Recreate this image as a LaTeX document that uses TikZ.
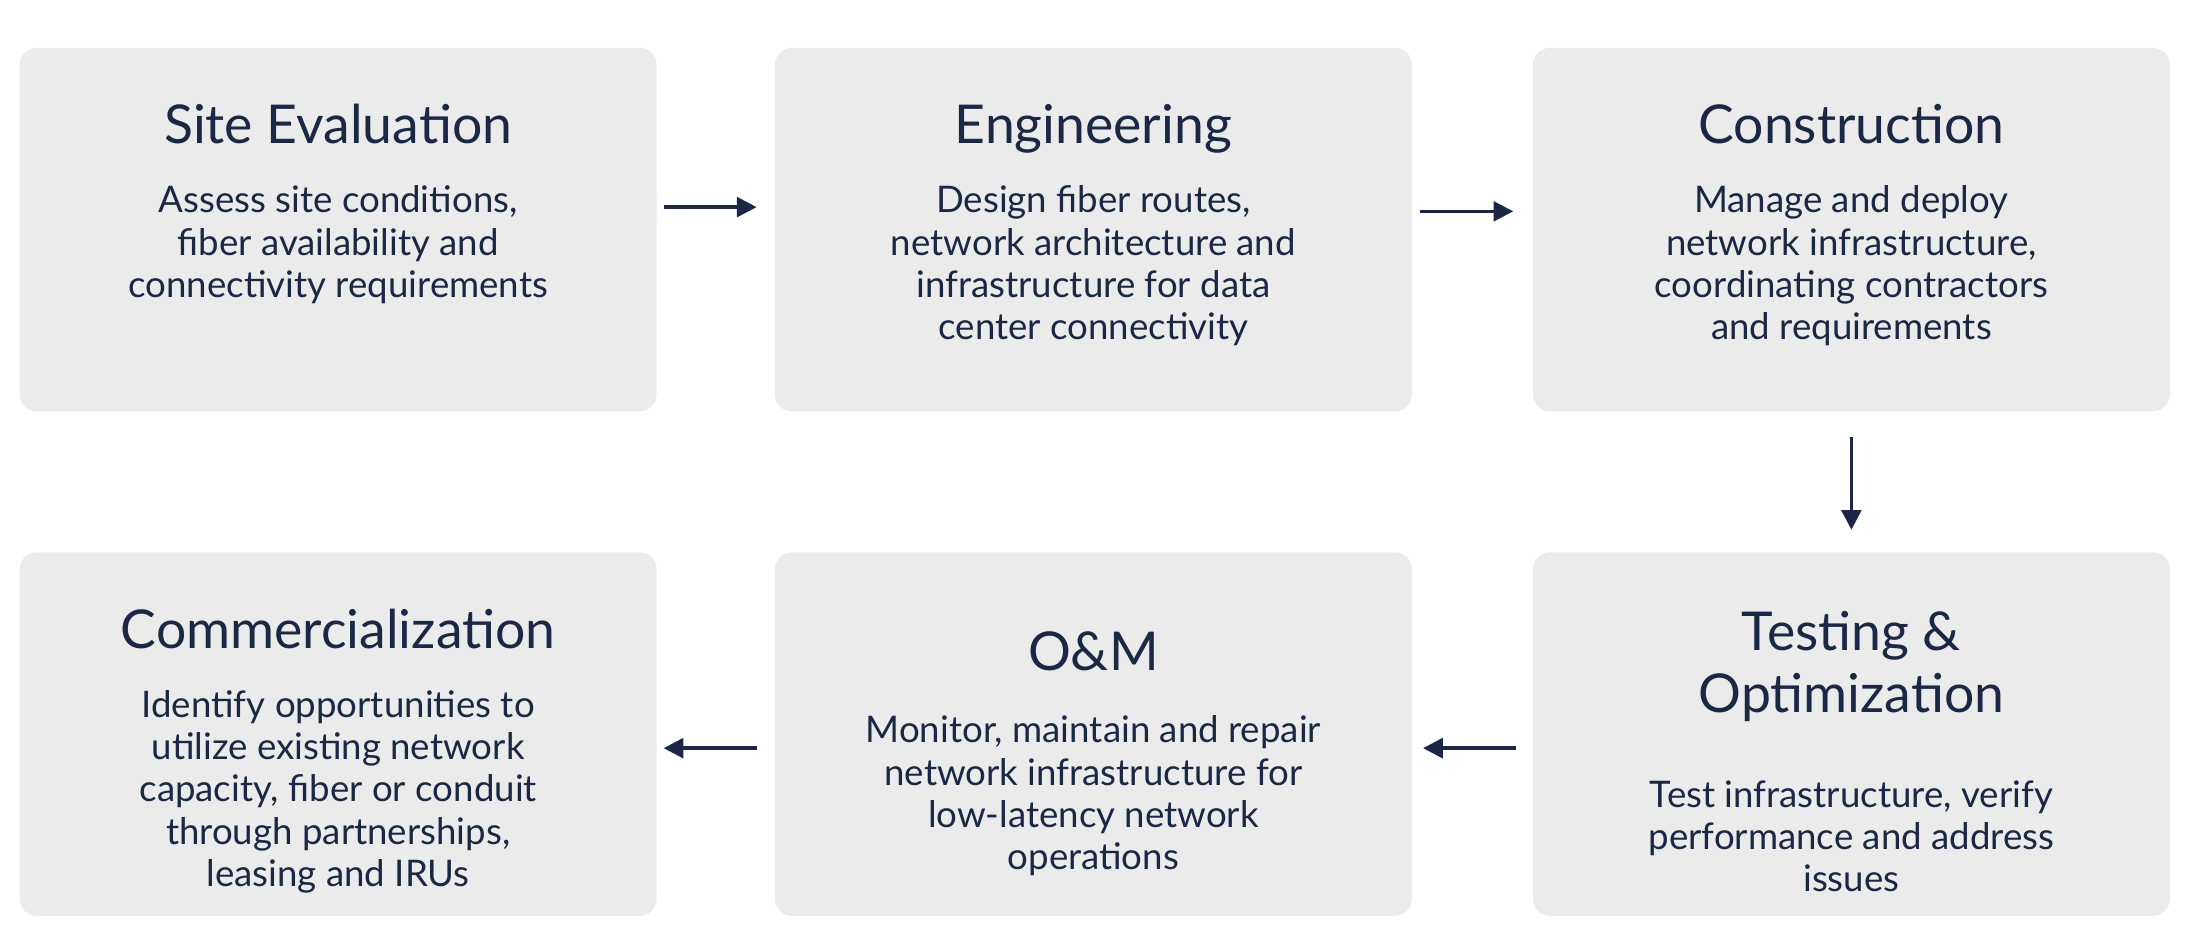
\documentclass[tikz,border=0pt]{standalone}
\usepackage{fontspec}
\setmainfont{Lato}
\usetikzlibrary{positioning}
\usetikzlibrary{arrows.meta}

\definecolor{navy}{HTML}{1B2845}
\definecolor{boxgray}{HTML}{EBEBEB}

\begin{document}
\begin{tikzpicture}[x=0.5pt,y=-0.5pt,
        stage/.style={fill=boxgray, rounded corners=6pt, minimum width=226pt, minimum height=129pt, inner sep=0pt},
        title/.style={text=navy, font=\fontsize{19}{22}\selectfont, align=center, anchor=north, inner sep=0pt},
        body/.style={text=navy, font=\fontsize{13}{15}\selectfont, align=center, anchor=north, inner sep=0pt},
        flow/.style={navy, line width=1.2pt, -{Triangle[length=7pt,width=7pt]}}]
        \useasboundingbox (0,0) rectangle (1560,673);

        % boxes
        \node[stage] (site) at (240,163) {};
        \node[stage] (eng) at (776,163) {};
        \node[stage] (cons) at (1314,163) {};
        \node[stage] (comm) at (240,521) {};
        \node[stage] (om) at (776,521) {};
        \node[stage] (test) at (1314,521) {};

        % titles and texts
        \node[title, below=20pt of site.north] (sitet) {Site Evaluation};
        \node[body, below=49pt of site.north] (siteb) {Assess site conditions,\\fiber availability and\\connectivity requirements};
        \node[title, below=20pt of eng.north] (engt) {Engineering};
        \node[body, below=49pt of eng.north] (engb) {Design fiber routes,\\network architecture and\\infrastructure for data\\center connectivity};
        \node[title, below=20pt of cons.north] (const) {Construction};
        \node[body, below=49pt of cons.north] (consb) {Manage and deploy\\network infrastructure,\\coordinating contractors\\and requirements};
        \node[title, below=20pt of comm.north] (commt) {Commercialization};
        \node[body, below=49pt of comm.north] (commb) {Identify opportunities to\\utilize existing network\\capacity, fiber or conduit\\through partnerships,\\leasing and IRUs};
        \node[title, below=28pt of om.north] (omt) {O\&M};
        \node[body, below=58pt of om.north] (omb) {Monitor, maintain and repair\\network infrastructure for\\low-latency network\\operations};
        \node[title, below=21pt of test.north] (testt) {Testing \&\\Optimization};
        \node[body, below=81pt of test.north] (testb) {Test infrastructure, verify\\performance and address\\issues};

        % arrows
        \coordinate (a1) at (471,147); \coordinate (a2) at (537,147);
        \coordinate (b1) at (1008,150); \coordinate (b2) at (1074,150);
        \coordinate (c1) at (1314,310); \coordinate (c2) at (1314,376);
        \coordinate (d1) at (1076,531); \coordinate (d2) at (1010,531);
        \coordinate (e1) at (537,531); \coordinate (e2) at (471,531);
        \draw[flow] (a1) -- (a2);
        \draw[flow] (b1) -- (b2);
        \draw[flow] (c1) -- (c2);
        \draw[flow] (d1) -- (d2);
        \draw[flow] (e1) -- (e2);
    \end{tikzpicture}
\end{document}
